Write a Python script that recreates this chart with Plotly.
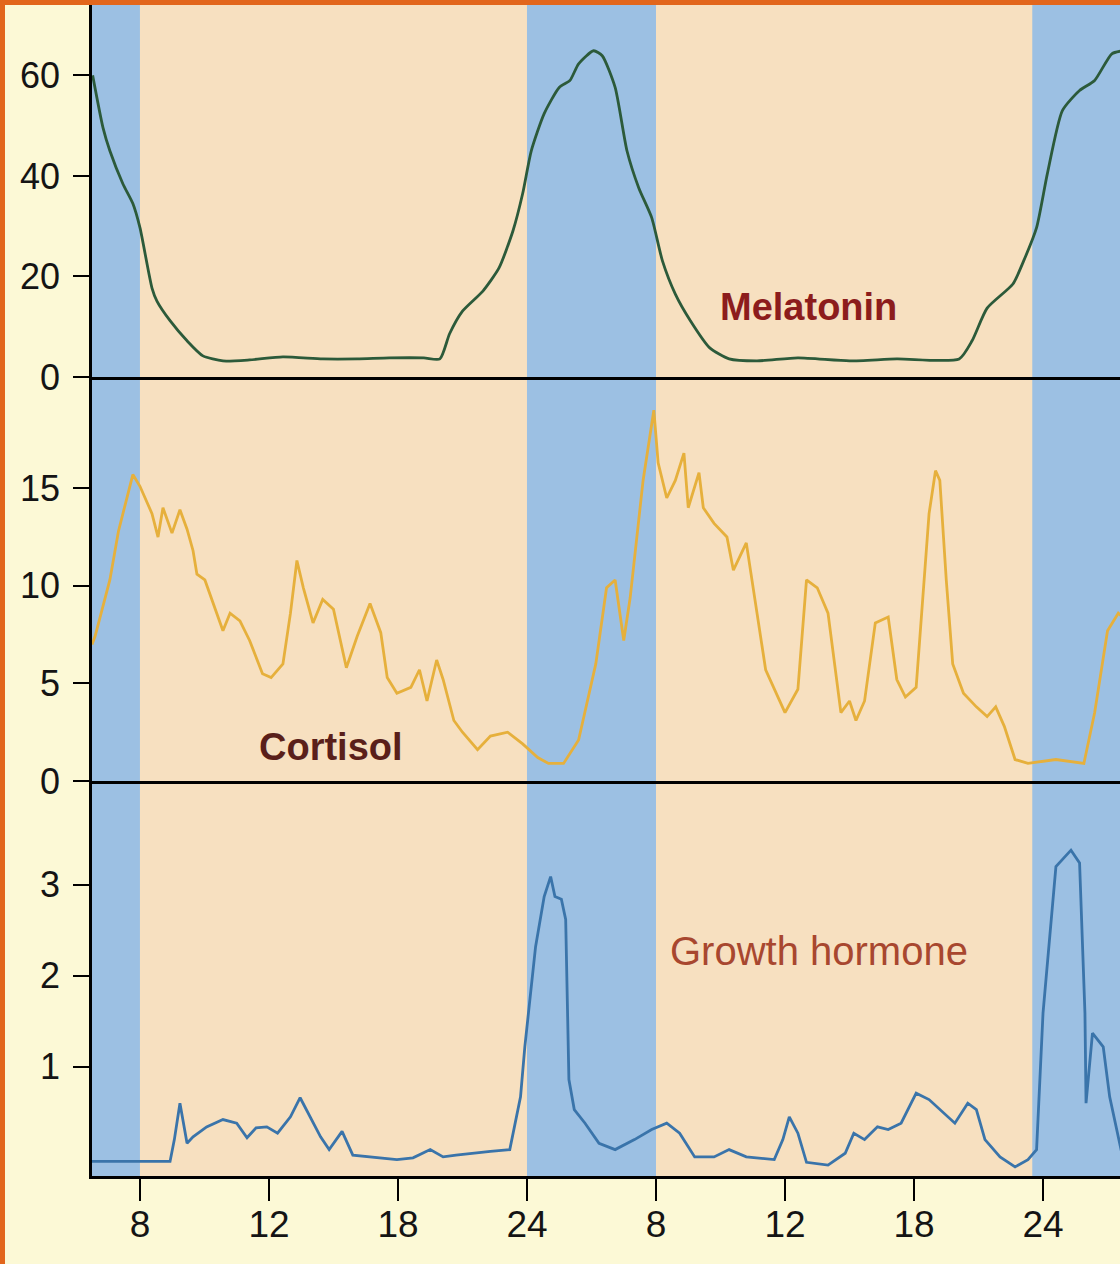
import plotly.graph_objects as go
from plotly.subplots import make_subplots

# clock hours along the two-day axis (6 = 06:00 day 1, 30 = 06:00 day 2)
night_periods = [(3.0, 6.0), (24.0, 30.0), (47.5, 54.0)]
tick_hours = [6, 12, 18, 24, 30, 36, 42, 48]
tick_labels = ["8", "12", "18", "24", "8", "12", "18", "24"]

melatonin_hours = [3.8, 4.28, 4.6, 5.21, 5.67, 6.0, 6.56, 6.79, 7.4, 8.19, 8.93, 9.86,
                   11.1, 12.65, 14.5, 16.1, 17.6, 19.2, 19.95, 20.4, 21.0, 21.95, 22.7,
                   23.35, 23.8, 24.2, 24.8, 25.5, 26.0, 26.4, 27.1, 27.5, 28.1, 28.65,
                   29.2, 29.8, 30.3, 30.9, 31.6, 32.5, 33.4, 34.7, 36.6, 39.0, 41.2,
                   44.1, 44.7, 45.4, 46.6, 47.1, 47.7, 48.2, 48.9, 49.7, 50.4, 51.2, 51.7]
melatonin = [60, 49.6, 45, 38.4, 34.5, 29.7, 17.7, 15.1, 11.2, 7.2, 4.2, 3.2,
             3.4, 4.0, 3.6, 3.6, 3.8, 3.8, 3.6, 8.6, 13.1, 17.1, 21.7,
             29.1, 36.5, 45.0, 52.4, 57.6, 59.0, 62.3, 64.9, 63.9, 57.6, 45.0,
             37.6, 31.7, 23.1, 16.5, 11.2, 5.8, 3.6, 3.2, 3.8, 3.2, 3.6,
             3.6, 7.2, 13.7, 18.5, 23.1, 29.7, 40.4, 53.0, 57.0, 59.0, 64.3, 64.9]

cortisol_hours = [3.77, 3.91, 4.6, 5.0, 5.67, 6.0, 6.56, 6.84, 7.07, 7.49, 7.86, 8.19,
                  8.47, 8.65, 9.02, 9.58, 9.86, 10.19, 10.65, 11.1, 11.7, 12.1, 12.65,
                  13.0, 13.3, 13.6, 14.05, 14.5, 15.0, 15.6, 16.1, 16.7, 17.2, 17.5,
                  17.95, 18.6, 19.0, 19.35, 19.8, 20.1, 20.6, 21.0, 21.7, 22.3, 23.1,
                  23.8, 24.5, 25.0, 25.7, 26.4, 27.2, 27.7, 28.1, 28.5, 28.8, 29.4,
                  29.9, 30.1, 30.5, 30.9, 31.3, 31.5, 32.0, 32.2, 32.7, 33.3, 33.6,
                  34.2, 34.7, 35.1, 36.0, 36.6, 37.0, 37.5, 38.0, 38.6, 39.0, 39.3,
                  39.7, 40.2, 40.8, 41.2, 41.6, 42.1, 42.7, 43.0, 43.2, 43.5, 43.8,
                  44.3, 44.9, 45.4, 45.8, 46.2, 46.7, 47.3, 48.6, 49.9, 50.4, 51.0,
                  51.5, 51.7]
cortisol = [7.0, 7.4, 10.3, 12.8, 15.7, 15.1, 13.7, 12.5, 14.0, 12.7, 13.9, 12.9,
            11.8, 10.6, 10.3, 8.6, 7.7, 8.6, 8.2, 7.2, 5.5, 5.3, 6.0,
            8.6, 11.3, 9.9, 8.1, 9.3, 8.8, 5.8, 7.4, 9.1, 7.6, 5.3,
            4.5, 4.8, 5.7, 4.1, 6.2, 5.2, 3.1, 2.5, 1.6, 2.3, 2.5,
            1.9, 1.2, 0.9, 0.9, 2.1, 6.0, 9.9, 10.3, 7.2, 9.4, 15.4,
            19.0, 16.3, 14.5, 15.4, 16.8, 14.0, 15.8, 14.0, 13.2, 12.5, 10.8,
            12.2, 8.6, 5.7, 3.5, 4.7, 10.3, 9.9, 8.6, 3.5, 4.1, 3.1,
            4.1, 8.1, 8.4, 5.2, 4.3, 4.8, 13.7, 15.9, 15.4, 10.3, 6.0,
            4.5, 3.8, 3.3, 3.8, 2.8, 1.1, 0.9, 1.1, 0.9, 3.5, 7.7,
            8.6, 8.4]

gh_hours = [3.77, 7.4, 7.6, 7.86, 8.19, 8.47, 9.1, 9.86, 10.5, 10.98, 11.4, 11.9,
            12.4, 13.0, 13.45, 13.9, 14.4, 14.8, 15.4, 15.9, 16.8, 17.95, 18.7,
            19.5, 20.1, 20.7, 22.3, 23.2, 23.7, 23.9, 24.4, 24.8, 25.1, 25.3, 25.6,
            25.8, 25.95, 26.2, 26.7, 27.35, 28.1, 29.0, 29.8, 30.5, 31.1, 31.8,
            32.7, 33.4, 34.2, 35.5, 35.9, 36.2, 36.6, 37.0, 38.0, 38.8, 39.2,
            39.7, 40.3, 40.8, 41.4, 42.1, 42.7, 43.2, 43.9, 44.5, 44.9, 45.3,
            46.0, 46.7, 47.3, 47.7, 48.0, 48.6, 49.3, 49.7, 49.95, 50.0, 50.3,
            50.8, 51.1, 51.7]
growth_hormone = [-0.04, -0.04, 0.2, 0.6, 0.16, 0.23, 0.34, 0.42, 0.38, 0.22, 0.33, 0.34,
                  0.27, 0.45, 0.66, 0.45, 0.23, 0.09, 0.29, 0.03, 0.01, -0.02, 0.0,
                  0.09, 0.01, 0.03, 0.07, 0.09, 0.67, 1.22, 2.32, 2.87, 3.09, 2.87, 2.84,
                  2.62, 0.86, 0.53, 0.38, 0.16, 0.09, 0.2, 0.31, 0.38, 0.27, 0.01,
                  0.01, 0.09, 0.01, -0.02, 0.2, 0.45, 0.27, -0.05, -0.08, 0.05, 0.27,
                  0.2, 0.34, 0.31, 0.38, 0.71, 0.64, 0.53, 0.38, 0.6, 0.53, 0.2,
                  0.01, -0.1, -0.02, 0.09, 1.59, 3.2, 3.38, 3.24, 1.59, 0.6, 1.37,
                  1.22, 0.67, 0.01]

W, H = 1120, 1264
L, R, T, B = 92, 0, 5, 88
FONT = "Liberation Sans, Arial, sans-serif"

fig = make_subplots(rows=3, cols=1, shared_xaxes=True, vertical_spacing=0,
                    row_heights=[372, 404, 395])

fig.add_trace(go.Scatter(x=melatonin_hours, y=melatonin, mode="lines",
                         line=dict(color="#2c5a3a", width=2.8, shape="spline", smoothing=0.6)),
              row=1, col=1)
fig.add_trace(go.Scatter(x=cortisol_hours, y=cortisol, mode="lines",
                         line=dict(color="#e6b03c", width=2.8)), row=2, col=1)
fig.add_trace(go.Scatter(x=gh_hours, y=growth_hormone, mode="lines",
                         line=dict(color="#3a74aa", width=2.8)), row=3, col=1)

# night bands
for a, b in night_periods:
    fig.add_shape(type="rect", xref="x", yref="paper", x0=a, x1=b, y0=0, y1=1,
                  fillcolor="#9cc0e3", line_width=0, layer="below")

# orange frame pieces
pw, ph = W - L - R, H - T - B
def px_x(p):
    return (p - L) / pw
def px_y(p):
    return (H - B - p) / ph
fig.add_shape(type="rect", xref="paper", yref="paper", x0=px_x(0), x1=px_x(5),
              y0=px_y(H), y1=px_y(0), fillcolor="#e2661c", line_width=0)
fig.add_shape(type="rect", xref="paper", yref="paper", x0=px_x(0), x1=px_x(W),
              y0=px_y(5), y1=px_y(0), fillcolor="#e2661c", line_width=0)

axis_common = dict(showline=True, linecolor="black", linewidth=2.5, showgrid=False,
                   zeroline=False, mirror=False)
yaxis_common = dict(axis_common, ticks="outside", ticklen=16, tickwidth=2,
                    tickcolor="black", ticklabelstandoff=6,
                    tickfont=dict(family=FONT, size=36, color="#141414"))

fig.update_yaxes(yaxis_common, range=[0, 74], tickvals=[0, 20, 40, 60], row=1, col=1)
fig.update_yaxes(yaxis_common, range=[0, 20.7], tickvals=[0, 5, 10, 15], row=2, col=1)
fig.update_yaxes(yaxis_common, range=[-0.2, 4.14], tickvals=[1, 2, 3], row=3, col=1)

fig.update_xaxes(axis_common, range=[3.77, 51.58], showticklabels=False, ticks="")
fig.update_xaxes(ticks="outside", ticklen=22, tickwidth=2, tickcolor="black",
                 tickvals=tick_hours, ticktext=tick_labels, showticklabels=True,
                 ticklabelstandoff=-8,
                 tickfont=dict(family=FONT, size=37, color="#141414"), row=3, col=1)

fig.add_annotation(x=37.07, y=13.9, xref="x", yref="y", text="<b>Melatonin</b>",
                   showarrow=False, font=dict(family=FONT, size=38, color="#8c1c1c"))
fig.add_annotation(x=14.88, y=1.74, xref="x2", yref="y2", text="<b>Cortisol</b>",
                   showarrow=False, font=dict(family=FONT, size=38, color="#5a1f1a"))
fig.add_annotation(x=37.6, y=2.27, xref="x3", yref="y3", text="Growth hormone",
                   showarrow=False, font=dict(family=FONT, size=40, color="#a8472f"))

fig.update_layout(width=W, height=H, margin=dict(l=L, r=R, t=T, b=B),
                  paper_bgcolor="#fcf9d6", plot_bgcolor="#f7e0c0", showlegend=False)

# the page body has a default 8px margin; remove it so the figure fills the window
fig.write_html("out.html", config={"displayModeBar": False},
               post_script="document.body.style.margin='0';")
